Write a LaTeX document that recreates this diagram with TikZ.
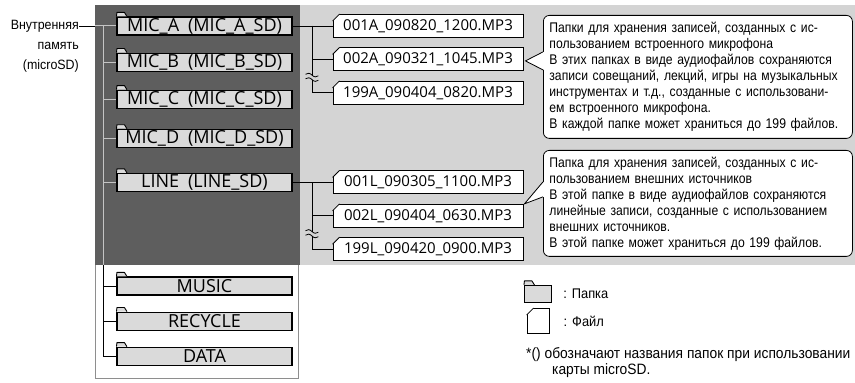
\documentclass[tikz,border=0pt]{standalone}
\usepackage{fontspec}
\setmainfont{Liberation Sans}[FakeStretch=0.92]
\newfontfamily\fldfont{Open Sans}
\newfontfamily\notefont{Liberation Sans}[FakeStretch=0.87]
\usepackage{tikz}
\usetikzlibrary{positioning, calc}
\definecolor{intgray}{HTML}{5E5E5E}
\definecolor{recgray}{HTML}{D4D4D4}
\definecolor{fldgray}{HTML}{DADADA}
\definecolor{framegray}{HTML}{8E8E8E}
\definecolor{treegray}{HTML}{C4C4C4}
\newlength\notew
\setlength\notew{297pt}
\newcommand{\jl}[1]{\makebox[\notew][s]{#1}}
\frenchspacing
\tikzset{
  panel/.style={rectangle, anchor=north west, inner sep=0pt, outer sep=0pt},
  fld/.style={rectangle, draw, line width=1.1pt, fill=fldgray, inner sep=0pt,
              minimum width=175pt, minimum height=18pt,
              font=\fldfont\fontsize{18}{18}\selectfont},
  fldtab/.style={fill=fldgray, line width=0.9pt, line join=round},
  fil/.style={rectangle, draw, line width=0.9pt, fill=white, inner sep=0pt,
              minimum width=190pt, minimum height=23pt,
              font=\fldfont\fontsize{15}{15}\selectfont},
  note/.style={rectangle, draw, rounded corners=6pt, fill=white, line width=0.8pt,
               anchor=north west, inner xsep=6pt, inner ysep=4pt, text width=\notew,
               align=left, font=\notefont\fontsize{14}{16}\selectfont},
  txt/.style={inner sep=0pt, font=\fontsize{14}{16}\selectfont},
  lnk/.style={line width=0.8pt},
  treelt/.style={treegray, line width=1pt},
  treedk/.style={black, line width=0.8pt},
  brk/.style={line width=0.8pt},
}
\begin{document}
\begin{tikzpicture}[x=1pt, y=1pt]
  \useasboundingbox (0,0) rectangle (855,383);
  % panels: frame, recordings (light), internal memory (dark)
  \node[panel, draw=framegray, line width=0.8pt, minimum width=203pt, minimum height=373pt] (frm) at (95,378) {};
  \node[panel, fill=recgray, minimum width=555pt, minimum height=260pt] (recp) at (300,378) {};
  \node[panel, fill=intgray, minimum width=205pt, minimum height=260pt] (intp) at (95,378) {};
  % folders
  \node[fld] (micA) at (204.5,357) {MIC\_A\hspace{0.5em}(MIC\_A\_SD)};
  \node[fld, below=17pt of micA] (micB) {MIC\_B\hspace{0.5em}(MIC\_B\_SD)};
  \node[fld, below=18pt of micB] (micC) {MIC\_C\hspace{0.5em}(MIC\_C\_SD)};
  \node[fld, below=20pt of micC] (micD) {MIC\_D\hspace{0.5em}(MIC\_D\_SD)};
  \node[fld, below=25pt of micD] (line) {LINE\hspace{0.5em}(LINE\_SD)};
  \node[fld] (music) at (204.5,97) {MUSIC};
  \node[fld, below=16pt of music] (recycle) {RECYCLE};
  \node[fld, below=16pt of recycle] (data) {DATA};
  % files
  \node[fil, right=40pt of micA] (fA1) {001A\_090820\_1200.MP3};
  \node[fil, below=9.5pt of fA1] (fA2) {002A\_090321\_1045.MP3};
  \node[fil, below=9.5pt of fA2] (fA3) {199A\_090404\_0820.MP3};
  \node[fil, right=40pt of line] (fL1) {001L\_090305\_1100.MP3};
  \node[fil, below=9.5pt of fL1] (fL2) {002L\_090404\_0630.MP3};
  \node[fil, below=9.5pt of fL2] (fL3) {199L\_090420\_0900.MP3};
  % legend
  \node[fld, minimum width=27pt, minimum height=17pt] (lgfld) at (538,89) {};
  \node[fil, minimum width=22pt, minimum height=25pt, below=5pt of lgfld] (lgfil) {};
  \node[txt, right=11pt of lgfld] (lgfldt) {:\hspace{5pt}Папка};
  \node[txt, right=14pt of lgfil] (lgfilt) {:\hspace{5pt}Файл};
  \node[txt, align=left, anchor=north west, font=\fontsize{15}{16}\selectfont] (fn) at (526,36)
    {*() обозначают названия папок при использовании\\\hspace*{26pt}карты microSD.};
  % folder tabs, file corners
  \foreach \f in {micA,micB,micC,micD,line,music,recycle,data,lgfld}
    \draw[fldtab] (\f.north west) -- ++(0.5,4) -- ++(7.5,0) -- ++(2.5,-4);
  \foreach \f/\bg in {fA1/recgray,fA2/recgray,fA3/recgray,fL1/recgray,fL2/recgray,fL3/recgray,lgfil/white} {
    \fill[\bg] ($(\f.north west)+(-1,-8)$) -- ($(\f.north west)+(-1,1)$) -- ($(\f.north west)+(8,1)$) -- cycle;
    \draw[lnk] ($(\f.north west)+(0,-7)$) -- ($(\f.north west)+(7,0)$);
  }
  % tree of the memory
  \node[txt, align=right, font=\fontsize{13.5}{20}\selectfont, anchor=north east] (mem) at (79,363)
    {Внутренняя\\память\\(microSD)};
  \coordinate (tr) at ($(micA.west)+(-13,0)$);
  \draw[treedk] (mem.east |- micA.west) -- (intp.west |- micA.west);
  \draw[treelt] (intp.west |- micA.west) -- (micA.west);
  \draw[treelt] (tr) -- (tr |- intp.south);
  \draw[treedk] (tr |- intp.south) -- (tr |- data.west);
  \foreach \f in {micB,micC,micD,line} \draw[treelt] (tr |- \f.west) -- (\f.west);
  \foreach \f in {music,recycle,data} \draw[treedk] (tr |- \f.west) -- (\f.west);
  % folder -> files
  \coordinate (jA) at ($(micA.east)!0.5!(fA1.west)$);
  \coordinate (jL) at ($(line.east)!0.5!(fL1.west)$);
  \draw[lnk] (micA.east) -- (fA1.west);
  \draw[lnk] (jA) |- (fA2.west);
  \draw[lnk] (jA) |- (fA3.west);
  \draw[lnk] (line.east) -- (fL1.west);
  \draw[lnk] (jL) |- (fL2.west);
  \draw[lnk] (jL) |- (fL3.west);
  % omission marks
  \foreach \j/\a/\b in {jA/fA2/fA3, jL/fL2/fL3} {
    \coordinate (bk) at ($(\j |- \a.west)!0.55!(\j |- \b.west)$);
    \fill[recgray] ($(bk)+(-1.5,-2.2)$) rectangle ($(bk)+(1.5,2.2)$);
    \draw[brk] ($(bk)+(-7,3.5)$) sin ++(3.2,1) cos ++(3.2,-1.8) sin ++(3.2,-1.8) cos ++(3.2,1);
    \draw[brk] ($(bk)+(-7,-1)$) sin ++(3.2,1) cos ++(3.2,-1.8) sin ++(3.2,-1.8) cos ++(3.2,1);
  }
  % notes
  \node[note, minimum height=123pt] (n1) at (543,368) {%
    \jl{Папки для хранения записей, созданных с ис-}\\
    пользованием встроенного микрофона\\
    \jl{В этих папках в виде аудиофайлов сохраняются}\\
    \jl{записи совещаний, лекций, игры на музыкальных}\\
    \jl{инструментах и т.д., созданные с использовани-}\\
    ем встроенного микрофона.\\
    В каждой папке может храниться до 199 файлов.};
  \node[note, minimum height=106pt] (n2) at (543,233) {%
    \jl{Папка для хранения записей, созданных с ис-}\\
    пользованием внешних источников\\
    \jl{В этой папке в виде аудиофайлов сохраняются}\\
    \jl{линейные записи, созданные с использованием}\\
    внешних источников.\\
    В этой папке может храниться до 199 файлов.};
  \coordinate (tp1) at ($(fA2.east)+(2,-1.5)$);
  \coordinate (tp2) at ($(fL2.north east)+(1,0)$);
  \fill[white] ($(n1.west |- tp1)+(0.8,9)$) -- (tp1) -- ($(n1.west |- tp1)+(0.8,-9)$) -- cycle;
  \draw[lnk] ($(n1.west |- tp1)+(0,9)$) -- (tp1) -- ($(n1.west |- tp1)+(0,-9)$);
  \fill[white] ($(n2.west |- tp2)+(0.8,22)$) -- (tp2) -- ($(n2.west |- tp2)+(0.8,7)$) -- cycle;
  \draw[lnk] ($(n2.west |- tp2)+(0,22)$) -- (tp2) -- ($(n2.west |- tp2)+(0,7)$);
\end{tikzpicture}
\end{document}
